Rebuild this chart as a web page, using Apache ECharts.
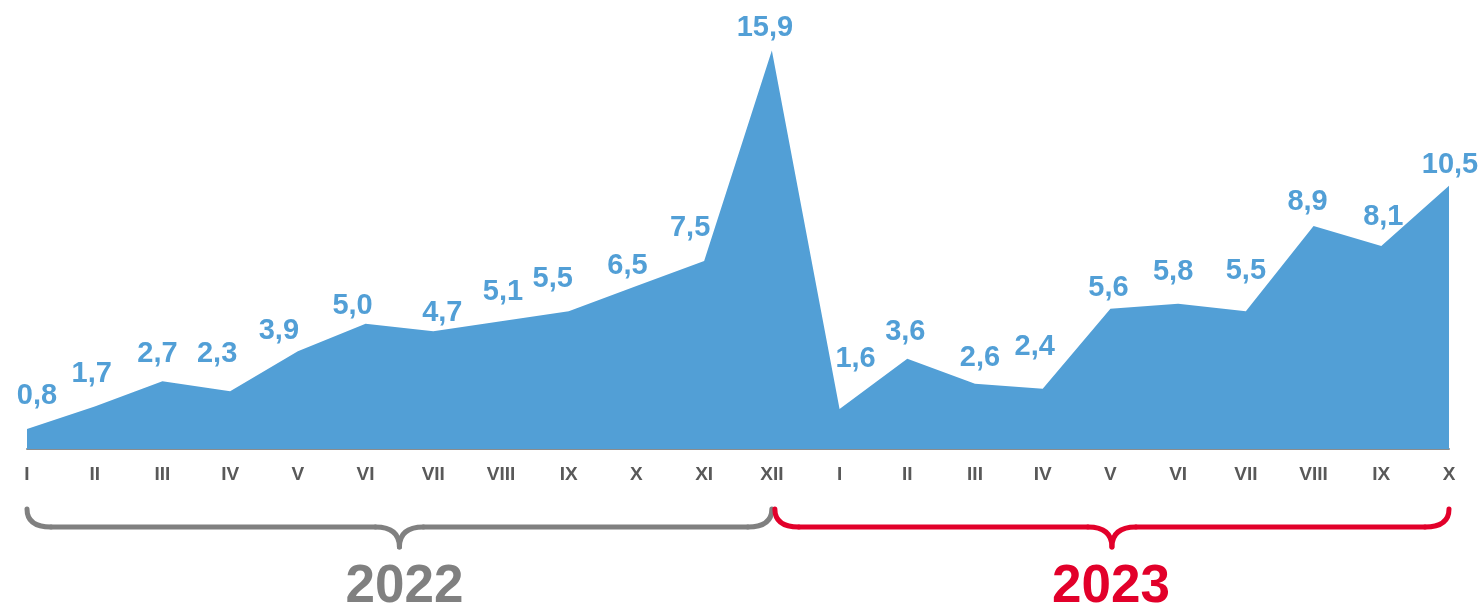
<!DOCTYPE html>
<html>
<head>
<meta charset="utf-8">
<script src="https://cdn.jsdelivr.net/npm/echarts@6/dist/echarts.min.js"></script>
<style>
html,body{margin:0;padding:0;background:#fff;}
#chart{width:1481px;height:608px;}
</style>
</head>
<body>
<div id="chart"></div>
<script>
const months = ['I','II','III','IV','V','VI','VII','VIII','IX','X','XI','XII',
                'I','II','III','IV','V','VI','VII','VIII','IX','X'];
const values = [0.8,1.7,2.7,2.3,3.9,5.0,4.7,5.1,5.5,6.5,7.5,15.9,
                1.6,3.6,2.6,2.4,5.6,5.8,5.5,8.9,8.1,10.5];
const years = ['2022','2023'];
const yearStartIdx = [0, 11];
const yearEndIdx = [11, 21];
const yearColors = ['#808080','#E2002A'];
const yearTextDx = [5,-1];
// manual label nudges (px), as placed in the original
const labelDx = [10,-3,-5,-13,-19,-13,9,2,-16,-9,-14,-7, 16,-2,5,-8,-2,-5,0,-6,2,1];
const labelUp = [35,34,29,39,22,20,20,31,34,22,35,25, 52,29,28,44,23,34,42,26,31,23];

const blue = '#529FD6';
const chart = echarts.init(document.getElementById('chart'));
chart.setOption({
  animation:false,
  grid:{left:27,right:32,top:48,bottom:159,containLabel:false},
  xAxis:{
    type:'category',data:months,boundaryGap:false,
    axisLine:{lineStyle:{color:'#8c8c8c',width:2}},
    axisTick:{show:false},
    axisLabel:{color:'#595959',fontFamily:'Liberation Sans, Arial',fontWeight:'bold',fontSize:19,margin:16,interval:0}
  },
  yAxis:{type:'value',min:0,max:16,show:false,splitLine:{show:false}},
  series:[{
    type:'line',data:values,symbol:'none',z:2,
    lineStyle:{width:0,color:blue},
    itemStyle:{color:blue},
    areaStyle:{color:blue,opacity:1}
  },{
    type:'line',z:10,silent:true,symbol:'circle',symbolSize:0,showSymbol:true,
    lineStyle:{opacity:0},itemStyle:{color:blue},
    data:values.map((v,i)=>({value:v,label:{offset:[labelDx[i],-labelUp[i]+2]}})),
    label:{show:true,position:'inside',color:blue,
      fontFamily:'Liberation Sans, Arial',fontWeight:'bold',fontSize:29,
      formatter:p=>p.value.toFixed(1).replace('.',',')}
  }]
});

const px = i => chart.convertToPixel({xAxisIndex:0}, i);
const base = chart.convertToPixel({yAxisIndex:0}, 0);
const g=[];
years.forEach((y,k)=>{
  const x0 = px(yearStartIdx[k]) + (k>0?3:0);
  const x1 = px(yearEndIdx[k]);
  const xc=(x0+x1)/2;
  const yTop=base+60, yMid=base+78, yTip=base+98, r=24;
  const st={stroke:yearColors[k],lineWidth:5,lineCap:'round',fill:null};
  g.push({type:'bezierCurve',shape:{x1:x0,y1:yTop,cpx1:x0,cpy1:yMid,x2:x0+r,y2:yMid},style:st});
  g.push({type:'line',shape:{x1:x0+r,y1:yMid,x2:xc-r,y2:yMid},style:st});
  g.push({type:'bezierCurve',shape:{x1:xc-r,y1:yMid,cpx1:xc,cpy1:yMid,x2:xc,y2:yTip},style:st});
  g.push({type:'bezierCurve',shape:{x1:xc,y1:yTip,cpx1:xc,cpy1:yMid,x2:xc+r,y2:yMid},style:st});
  g.push({type:'line',shape:{x1:xc+r,y1:yMid,x2:x1-r,y2:yMid},style:st});
  g.push({type:'bezierCurve',shape:{x1:x1-r,y1:yMid,cpx1:x1,cpy1:yMid,x2:x1,y2:yTop},style:st});
  g.push({type:'text',x:xc+yearTextDx[k],y:base+138,style:{text:y,fill:yearColors[k],
    font:'bold 53px "Liberation Sans", Arial',textAlign:'center',textVerticalAlign:'middle'}});
});
chart.setOption({graphic:g});
</script>
</body>
</html>
